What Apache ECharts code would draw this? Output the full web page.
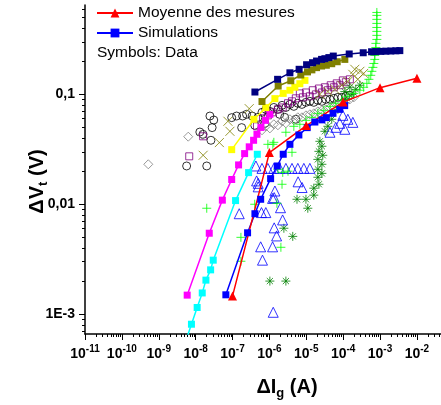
<!DOCTYPE html>
<html><head><meta charset="utf-8">
<script src="https://cdn.jsdelivr.net/npm/echarts@6/dist/echarts.min.js"></script>
<style>html,body{margin:0;padding:0;background:#fff}#c{width:441px;height:405px}</style>
</head><body><div id="c"></div>
<script>
// ---------- axis ticks ----------
const xMajorTicks = [1e-11,1e-10,1e-9,1e-8,1e-7,1e-6,1e-5,1e-4,1e-3,1e-2];
const yMajorTicks = [1e-3,1e-2,1e-1];
const yTickLabels = ['1E-3','0,01','0,1'];

// ---------- line series (simulations / mean) ----------
const moyX = [1e-7,1e-6,1e-5,1e-4,1e-3,1e-2];
const moyY = [1.46e-3,0.0295,0.052,0.085,0.115,0.14];

const simX = [6.6e-8,2.56e-7,4.05e-7,5.8e-7,1.08e-6,1.63e-6,2.37e-6,3.6e-6,6.3e-6,1.06e-5,1.71e-5,2.65e-5,3.5e-5,5.3e-5,8.1e-5,1.1e-4];
const simY = [1.5e-3,5.5e-3,8.2e-3,0.0111,0.0171,0.0223,0.0285,0.0351,0.0427,0.0498,0.056,0.0586,0.0614,0.0672,0.073,0.079];

const navyX = [4.05e-7,1.67e-6,3.6e-6,6.4e-6,1.02e-5,1.48e-5,1.9e-5,2.6e-5,3.2e-5,4.1e-5,5.4e-5,1.46e-4,3.5e-4,5.9e-4,7.7e-4,1.05e-3,1.44e-3,1.96e-3,2.68e-3,3.44e-3];
const navyY = [0.105,0.137,0.157,0.169,0.186,0.194,0.201,0.208,0.211,0.216,0.223,0.233,0.239,0.244,0.245,0.246,0.247,0.248,0.249,0.25];

const oliveX = [6.3e-7,1.73e-6,3.8e-6,7.1e-6,1.08e-5,1.42e-5,1.9e-5,2.6e-5,3.5e-5,4.9e-5,6.9e-5,1.11e-4];
const oliveY = [0.086,0.119,0.133,0.150,0.160,0.167,0.175,0.181,0.184,0.190,0.198,0.208];

const yellowX = [9.5e-8,3.8e-7,8.0e-7,1.41e-6,2.37e-6,3.6e-6,4.9e-6,6.7e-6,9.2e-6];
const yellowY = [0.0314,0.0593,0.0757,0.0914,0.102,0.109,0.116,0.125,0.134];

const magentaX = [5.9e-9,2.34e-8,5.3e-8,9.5e-8,1.46e-7,2.13e-7,2.84e-7,3.73e-7,4.6e-7,5.9e-7,7.8e-7,1.03e-6];
const magentaY = [1.49e-3,5.45e-3,0.0109,0.0168,0.0228,0.0289,0.0333,0.0382,0.0433,0.050,0.058,0.0658];

const cyanX = [5.4e-9,7.7e-9,1.1e-8,1.51e-8,1.9e-8,2.55e-8,3.0e-8,1.21e-7,2.73e-7,4.7e-7];
const cyanY = [5.7e-4,8.1e-4,1.15e-3,1.56e-3,2.04e-3,2.53e-3,3.1e-3,0.0108,0.0194,0.0285];

// ---------- measured data (symbols) ----------
const circX = [5.7e-9,2.0e-8,1.3e-8,2.6e-8,2.8e-8,2.44e-8,3.1e-8,9.5e-8,1.29e-7,1.88e-7,1.77e-7,2.4e-7,3.4e-7,4.9e-7,6.3e-7,8.0e-7,1.03e-6,1.32e-6,1.7e-6,2.2e-6,2.8e-6,3.6e-6,4.6e-6,5.9e-6,7.6e-6,9.8e-6,1.25e-5,1.6e-5,2.06e-5,2.65e-5,3.4e-5,4.4e-5,5.6e-5,7.2e-5,9.2e-5,1.18e-4,1.52e-4,4.0e-7,7.6e-7,2.6e-6,5.2e-6,1.9e-6,1.58e-8];
const circY = [0.0223,0.0223,0.0454,0.0382,0.0498,0.0635,0.0584,0.0614,0.0635,0.0635,0.0498,0.0658,0.0635,0.0618,0.0686,0.073,0.070,0.076,0.073,0.0794,0.076,0.081,0.0778,0.083,0.081,0.0846,0.0864,0.0846,0.0882,0.0864,0.090,0.090,0.092,0.094,0.094,0.096,0.098,0.0523,0.0545,0.0618,0.0593,0.0658,0.0433];

const diaX = [5.2e-10,6.3e-9,1.53e-8,6.3e-7,8.0e-7,1.03e-6,1.32e-6,1.7e-6,2.2e-6,2.8e-6,3.6e-6,4.6e-6,5.9e-6,7.6e-6,9.8e-6,1.25e-5,1.6e-5,2.06e-5,2.65e-5,3.4e-5,4.4e-5,5.6e-5,7.2e-5,9.2e-5,1.18e-4,1.52e-4,1.95e-4];
const diaY = [0.0231,0.0412,0.0428,0.0471,0.0512,0.049,0.0534,0.0523,0.0569,0.0545,0.0593,0.058,0.0618,0.0618,0.0644,0.0658,0.0672,0.070,0.0716,0.073,0.076,0.0778,0.081,0.083,0.0864,0.090,0.094];

const purpX = [6.7e-9,1.6e-8,4.6e-7,6.7e-7,9.1e-7,1.24e-6,1.7e-6,2.3e-6,3.2e-6,4.1e-6,5.2e-6,6.7e-6,8.1e-6,9.8e-6,1.25e-5,1.5e-5,1.82e-5,2.2e-5,2.65e-5,3.2e-5,3.85e-5,4.6e-5,5.6e-5,6.7e-5,8.1e-5,9.8e-5,1.18e-4,1.52e-4];
const purpY = [0.0273,0.0415,0.0512,0.0605,0.0644,0.0686,0.073,0.076,0.083,0.0864,0.092,0.102,0.094,0.104,0.096,0.109,0.100,0.113,0.104,0.116,0.109,0.121,0.116,0.126,0.121,0.134,0.129,0.137];

const crossX = [1.6e-8,4.4e-8,8.5e-8,7.5e-8,2.84e-7,2.34e-5,3.85e-5,6.0e-5,9.2e-5,1.34e-4,1.83e-4,2.07e-4,2.5e-4,2.84e-4,3.6e-4];
const crossY = [0.0279,0.0364,0.0461,0.0569,0.0741,0.100,0.106,0.111,0.121,0.131,0.152,0.169,0.137,0.162,0.155];

const plusX = [2.0e-8,1.69e-7,1.69e-7,4.0e-7,1.6e-6,2.2e-6,9.1e-7,1.24e-6,1.7e-6,2.3e-6,3.2e-6,4.1e-6,2.05e-6,1.32e-6,2.8e-6,4.6e-6,6.7e-6,9.8e-6,1.42e-5,2.06e-5,3.0e-5,4.4e-5,6.3e-5,9.2e-5,1.34e-4,1.95e-4,2.84e-4,3.6e-4,4.4e-4,5.0e-4,5.6e-4,6.0e-4,6.4e-4,6.8e-4,7.2e-4,7.2e-4,7.7e-4,7.7e-4,7.7e-4,8.2e-4,8.2e-4,8.2e-4,8.2e-4,8.2e-4,8.2e-4,8.2e-4,8.2e-4];
const plusY = [9.2e-3,5.0e-3,3.03e-3,0.010,0.0102,0.0152,0.0351,0.0351,0.0208,0.0195,0.0200,0.0297,4.06e-3,0.0366,0.0452,0.0512,0.0534,0.058,0.0618,0.0672,0.0716,0.0778,0.083,0.0882,0.096,0.102,0.109,0.116,0.126,0.137,0.149,0.162,0.176,0.191,0.208,0.226,0.246,0.267,0.291,0.316,0.344,0.374,0.406,0.442,0.481,0.523,0.556];

const starX = [1.03e-6,2.8e-6,2.47e-6,4.3e-6,5.6e-6,9.8e-6,1.1e-5,1.6e-5,1.6e-5,2.2e-5,2.06e-5,2.65e-5,2.06e-5,2.65e-5,2.06e-5,2.8e-5,2.2e-5,2.65e-5,2.34e-5,3.2e-5,3.85e-5,4.9e-5,7.2e-5,1.11e-4,1.72e-4,2.2e-4,2.84e-4,1.11e-4,1.52e-4];
const starY = [2.0e-3,2.0e-3,6.05e-3,5.1e-3,0.0111,0.0111,9.2e-3,0.0121,0.014,0.0152,0.0176,0.0191,0.0208,0.0231,0.0256,0.0279,0.0303,0.0337,0.0374,0.0461,0.0512,0.0593,0.073,0.090,0.100,0.111,0.121,0.106,0.116];

const triX = [4.3e-7,4.5e-7,1.52e-7,4.97e-7,6.0e-6,7.7e-6,1.41e-6,1.22e-6,6.1e-7,8.0e-7,2.0e-6,2.28e-6,1.35e-6,1.57e-6,5.8e-7,1.22e-6,6.5e-7,1.27e-6,1.35e-6,4.97e-7,6.3e-7,9.1e-7,1.32e-6,1.9e-6,2.8e-6,4.1e-6,5.9e-6,8.6e-6,1.25e-5,6.3e-5,8.1e-5,9.8e-5,1.34e-4,1.83e-4,4.4e-5,1.11e-4];
const triY = [0.0223,0.0163,8.2e-3,0.0155,0.016,0.0142,0.0132,0.0113,8.4e-3,8.4e-3,9.3e-3,7.2e-3,6.1e-3,5.15e-3,4.1e-3,4.1e-3,3.1e-3,1.04e-3,0.0115,0.0144,0.0212,0.0212,0.0212,0.0212,0.0212,0.0212,0.0212,0.0212,0.0212,0.0501,0.0545,0.0644,0.0593,0.0556,0.0452,0.0481];

// ---------- helpers ----------
const pts = (xs, ys) => xs.map((x, i) => [x, ys[i]]);
const font = 'Arial, "Liberation Sans", sans-serif';
const minorX = [];
for (let e = -11; e <= -2; e++) for (let k = 2; k <= 9; k++) minorX.push(k * Math.pow(10, e));
const minorY = [];
for (let e = -4; e <= -1; e++) for (let k = 2; k <= 9; k++) minorY.push(k * Math.pow(10, e));

const PLUS = 'path://M5,0L5,10M0,5L10,5';
const XMARK = 'path://M0,0L10,10M10,0L0,10';
const STAR = 'path://M5,0L5,10M0,5L10,5M1.6,1.6L8.4,8.4M8.4,1.6L1.6,8.4';

function scatter(name, data, symbol, size, color, filled) {
  return {
    name, type: 'scatter', data, symbol, symbolSize: size, silent: true,
    itemStyle: filled ? { color } : { color: 'transparent', borderColor: color, borderWidth: 1 }
  };
}
function line(name, data, color, symbol, size, z) {
  return {
    name, type: 'line', data, symbol, symbolSize: size, showSymbol: true, silent: true, z,
    lineStyle: { color, width: 1.5 }, itemStyle: { color, borderWidth: 0 }
  };
}

const xMin = 1e-11, xMax = 0.045, yMin = 6.6e-4, yMax = 0.65;
const axisTxt = { fontFamily: font, fontWeight: 'bold', color: '#000' };

const chart = echarts.init(document.getElementById('c'), null, { renderer: 'canvas' });
chart.setOption({
  animation: false,
  backgroundColor: '#fff',
  grid: { left: 85, right: 0, top: 5, bottom: 70 },
  legend: {
    data: ['Moyenne des mesures', 'Simulations'],
    orient: 'vertical', left: 96, top: 5, padding: 0, itemWidth: 36, itemHeight: 11, itemGap: 4,
    textStyle: { fontFamily: font, fontSize: 15.5, color: '#000' },
    selectedMode: false
  },
  title: {
    text: 'Symbols: Data', left: 97, top: 45, padding: 0,
    textStyle: { fontFamily: font, fontSize: 15.5, fontWeight: 'normal', color: '#000' }
  },
  xAxis: [{
    type: 'log', min: xMin, max: xMax, position: 'bottom',
    name: '{a|ΔI}{s|g}{a| (A)}', nameLocation: 'middle', nameGap: 40, nameMoveOverlap: false,
    nameTextStyle: { padding: [0, 0, 0, 48], rich: {
      a: Object.assign({ fontSize: 20, lineHeight: 26 }, axisTxt),
      s: Object.assign({ fontSize: 13, lineHeight: 13, verticalAlign: 'bottom' }, axisTxt) } },
    axisLine: { lineStyle: { color: '#000', width: 1.5 } },
    axisTick: { customValues: xMajorTicks, length: 6, lineStyle: { color: '#000', width: 1 } },
    axisLabel: { customValues: xMajorTicks, margin: 10,
      formatter: v => '{b|10}{s|' + Math.round(Math.log10(v)) + '}',
      rich: { b: Object.assign({ fontSize: 14, lineHeight: 20 }, axisTxt),
              s: Object.assign({ fontSize: 10, lineHeight: 10, verticalAlign: 'top' }, axisTxt) } },
    splitLine: { show: false }
  }, {
    type: 'log', min: xMin, max: xMax, position: 'bottom',
    axisLine: { show: false }, axisLabel: { show: false }, splitLine: { show: false },
    axisTick: { customValues: minorX, length: 3, lineStyle: { color: '#000', width: 1 } }
  }],
  yAxis: [{
    type: 'log', min: yMin, max: yMax, position: 'left',
    name: '{a|ΔV}{s|t}{a| (V)}', nameLocation: 'middle', nameGap: 35, nameMoveOverlap: false,
    nameTextStyle: { padding: [0, 24, 0, 0], rich: {
      a: Object.assign({ fontSize: 20, lineHeight: 26 }, axisTxt),
      s: Object.assign({ fontSize: 13, lineHeight: 13, verticalAlign: 'bottom' }, axisTxt) } },
    axisLine: { lineStyle: { color: '#000', width: 1.5 } },
    axisTick: { customValues: yMajorTicks, length: 6, lineStyle: { color: '#000', width: 1 } },
    axisLabel: { customValues: yMajorTicks, margin: 10, fontSize: 14, fontWeight: 'bold', fontFamily: font, color: '#000',
      formatter: v => yTickLabels[Math.round(Math.log10(v)) + 3] },
    splitLine: { show: false }
  }, {
    type: 'log', min: yMin, max: yMax, position: 'left',
    axisLine: { show: false }, axisLabel: { show: false }, splitLine: { show: false },
    axisTick: { customValues: minorY, length: 3, lineStyle: { color: '#000', width: 1 } }
  }],
  series: [
    scatter('circles', pts(circX, circY), 'circle', 8, '#000000', false),
    scatter('diamonds', pts(diaX, diaY), 'diamond', 9, '#808080', false),
    scatter('opensquares', pts(purpX, purpY), 'rect', 7, '#800080', false),
    scatter('crosses', pts(crossX, crossY), XMARK, 9, '#808000', false),
    scatter('stars', pts(starX, starY), STAR, 9, '#008000', false),
    scatter('triangles', pts(triX, triY), 'triangle', 10, '#0000FF', false),
    scatter('plus', pts(plusX, plusY), PLUS, 9, '#00FF00', false),
    line('cyan', pts(cyanX, cyanY), '#00FFFF', 'rect', 7, 3),
    line('magenta', pts(magentaX, magentaY), '#FF00FF', 'rect', 7, 3),
    line('yellow', pts(yellowX, yellowY), '#FFFF00', 'rect', 7, 3),
    line('olive', pts(oliveX, oliveY), '#808000', 'rect', 7, 3),
    line('navy', pts(navyX, navyY), '#000080', 'rect', 7, 3),
    line('Simulations', pts(simX, simY), '#0000FF', 'rect', 7, 4),
    line('Moyenne des mesures', pts(moyX, moyY), '#FF0000', 'triangle', 9, 4)
  ]
});
</script></body></html>
